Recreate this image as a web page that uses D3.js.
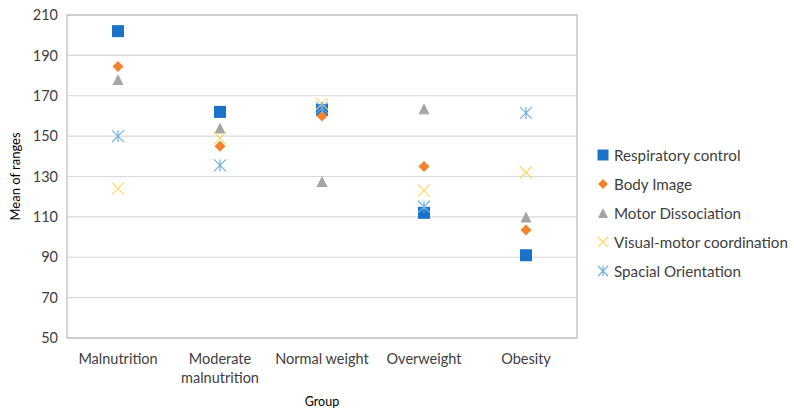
<!DOCTYPE html>
<html><head><meta charset="utf-8">
<script src="https://cdn.jsdelivr.net/npm/d3@7"></script>
<style>body{margin:0;background:#fff}svg{display:block}text{font-family:Lato,"Liberation Sans",sans-serif}</style>
</head><body>
<svg id="c" width="794" height="417"></svg>
<script>
const categories = ["Malnutrition", "Moderate malnutrition", "Normal weight", "Overweight", "Obesity"];
const seriesNames = ["Respiratory control", "Body Image", "Motor Dissociation", "Visual-motor coordination", "Spacial Orientation"];
const respiratory = [202, 162, 163, 112, 91];
const bodyImage   = [184.5, 145, 160, 135, 103.5];
const motorDiss   = [178, 154, 127.5, 163.5, 110];
const visualMotor = [124, 149, 166, 123, 132];
const spacial     = [150, 135.5, 164, 115, 161.5];
const yTicks = [50, 70, 90, 110, 130, 150, 170, 190, 210];

const seriesValues = [respiratory, bodyImage, motorDiss, visualMotor, spacial];
const colors = ["#1a73c8", "#f5822f", "#a5a5a5", "#ffd966", "#6fb2e2"];
const shapes = ["square", "diamond", "triangle", "x", "asterisk"];

const svg = d3.select("#c");
const m = {l: 67, r: 577, t: 15, b: 338};
const x = d3.scaleBand().domain(categories).range([m.l, m.r]);
const y = d3.scaleLinear().domain([50, 210]).range([m.b, m.t]);

// gridlines
svg.append("g").selectAll("line").data(yTicks).join("line")
  .attr("x1", m.l).attr("x2", m.r).attr("y1", d => y(d)).attr("y2", d => y(d))
  .attr("stroke", "#d9d9d9").attr("stroke-width", 1.2);
// border
svg.append("rect").attr("x", m.l).attr("y", m.t).attr("width", m.r - m.l).attr("height", m.b - m.t)
  .attr("fill", "none").attr("stroke", "#bfbfbf").attr("stroke-width", 1.3);

// y axis
const ya = svg.append("g").attr("transform", `translate(${m.l},0)`)
  .call(d3.axisLeft(y).tickValues(yTicks).tickSize(0).tickPadding(9));
ya.select(".domain").remove();
ya.selectAll("text").attr("font-size", 14.5).attr("fill", "#404040").style("font-family", 'Lato,"Liberation Sans",sans-serif');

// x axis
const xa = svg.append("g").attr("transform", `translate(0,${m.b})`)
  .call(d3.axisBottom(x).tickSize(0).tickFormat(""));
xa.select(".domain").remove();
xa.selectAll(".tick").each(function(d) {
  const g = d3.select(this);
  const lines = d === "Moderate malnutrition" ? ["Moderate", "malnutrition"] : [d];
  lines.forEach((t, i) => {
    g.append("text").attr("y", 26 + i * 19).attr("text-anchor", "middle")
      .attr("font-size", 14.5).attr("fill", "#404040").text(t);
  });
});

svg.append("text").attr("x", (m.l + m.r) / 2).attr("y", 406).attr("text-anchor", "middle")
  .attr("font-size", 12.5).attr("fill", "#000").text("Group");
svg.append("text").attr("transform", `translate(20,${(m.t + m.b) / 2}) rotate(-90)`)
  .attr("text-anchor", "middle").attr("font-size", 13).attr("fill", "#000").text("Mean of ranges");

function drawMarker(g, shape, color, s) {
  const h = s / 2;
  if (shape === "square") g.append("rect").attr("x", -h).attr("y", -h).attr("width", s).attr("height", s).attr("fill", color);
  else if (shape === "diamond") g.append("path").attr("d", `M0,${-h}L${h},0L0,${h}L${-h},0Z`).attr("fill", color);
  else if (shape === "triangle") g.append("path").attr("d", `M0,${-h}L${h},${h}L${-h},${h}Z`).attr("fill", color);
  else if (shape === "x") g.append("path").attr("d", `M${-h},${-h}L${h},${h}M${h},${-h}L${-h},${h}`).attr("stroke", color).attr("stroke-width", 1.2).attr("fill", "none");
  else if (shape === "asterisk") g.append("path").attr("d", `M${-h},${-h}L${h},${h}M${h},${-h}L${-h},${h}M0,${-h}L0,${h}`).attr("stroke", color).attr("stroke-width", 1.2).attr("fill", "none");
}
const sizes = [12, 11, 11, 12, 12];

seriesValues.forEach((vals, si) => {
  vals.forEach((v, ci) => {
    const g = svg.append("g").attr("transform", `translate(${x(categories[ci]) + x.bandwidth() / 2},${y(v)})`);
    drawMarker(g, shapes[si], colors[si], sizes[si]);
  });
});

// legend
seriesNames.forEach((n, i) => {
  const ly = 155 + i * 29;
  const g = svg.append("g").attr("transform", `translate(603,${ly})`);
  drawMarker(g, shapes[i], colors[i], i === 0 ? 11 : 10);
  svg.append("text").attr("x", 614).attr("y", ly + 5.5).attr("font-size", 15.2).attr("fill", "#404040").text(n);
});
</script>
</body></html>
